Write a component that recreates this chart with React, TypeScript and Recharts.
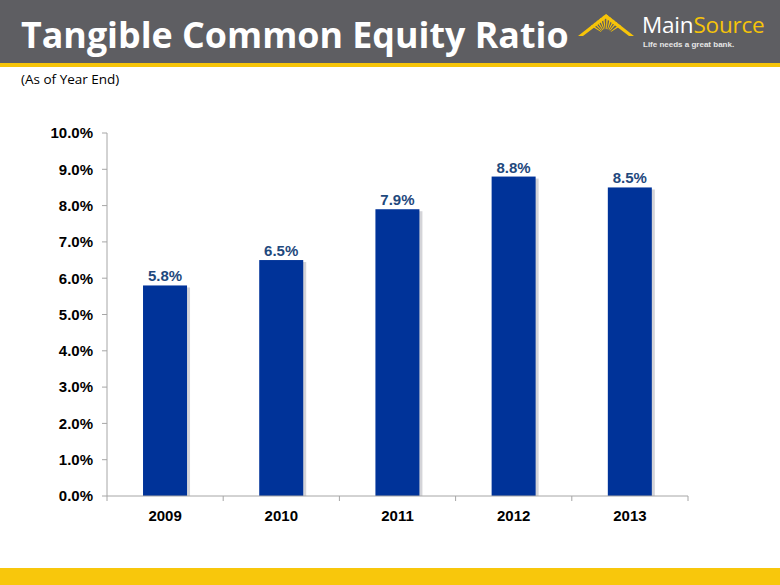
import { BarChart, Bar, XAxis, YAxis, LabelList } from "recharts";

// Tangible common equity ratio, % as of year end
const years = ["2009", "2010", "2011", "2012", "2013"];
const ratios = [5.8, 6.5, 7.9, 8.8, 8.5];
const yTicks = [0, 1, 2, 3, 4, 5, 6, 7, 8, 9, 10];

const data = years.map((year, i) => ({ year, ratio: ratios[i] }));

const BAR_BLUE = "#003399";
const LABEL_BLUE = "#1f497d";
const GOLD = "#f6c409";
const AXIS_GREY = "#a6a6a6";
const FONT = "'Liberation Sans', Arial, sans-serif";

const pct = (v: number) => `${v.toFixed(1)}%`;

// bar with the soft grey drop shadow on its right side
const ShadowBar = (props: any) => {
  const { x, y, width, height, fill } = props;
  if (!height) return null;
  return (
    <g>
      <rect x={x + 3} y={y + 2} width={width} height={height - 2} fill="#d4d4d8" />
      <rect x={x} y={y} width={width} height={height} fill={fill} />
    </g>
  );
};

// category label + tick marks at the category boundaries (like Excel)
const YearTick = (props: any) => {
  const { x, y, payload, index, visibleTicksCount, width } = props;
  const half = payload.offset ?? width / visibleTicksCount / 2;
  const last = index === visibleTicksCount - 1;
  return (
    <g>
      <line x1={x - half} x2={x - half} y1={y} y2={y + 5} stroke={AXIS_GREY} />
      {last && <line x1={x + half} x2={x + half} y1={y} y2={y + 5} stroke={AXIS_GREY} />}
      <text
        x={x}
        y={y + 14}
        dy="0.71em"
        textAnchor="middle"
        fill="#000"
        fontFamily={FONT}
        fontWeight="bold"
        fontSize={15}
      >
        {payload.value}
      </text>
    </g>
  );
};

const rayAngles = [35, 50, 62, 74, 86, 98, 110, 122, 134, 146];

function Logo() {
  const cx = 606;
  const cy = 35;
  return (
    <svg width={780} height={64} style={{ position: "absolute", left: 0, top: 0 }}>
      <defs>
        <clipPath id="roof">
          <polygon points="578,36 606,14 634,36" />
        </clipPath>
      </defs>
      <polygon points="578,36 606,14 634,36 629,36 606,18.5 583,36" fill={GOLD} />
      <g clipPath="url(#roof)">
        {rayAngles.map((a) => {
          const r = (a * Math.PI) / 180;
          const w = 0.05;
          const L = 24;
          const p1 = `${cx + L * Math.cos(r - w)},${cy - L * Math.sin(r - w)}`;
          const p2 = `${cx + L * Math.cos(r + w)},${cy - L * Math.sin(r + w)}`;
          return <polygon key={a} points={`${cx},${cy} ${p1} ${p2}`} fill={GOLD} />;
        })}
        <circle cx={cx} cy={cy} r={6} fill="#5e5e62" />
      </g>
      <text x={642} y={33} fontFamily="'Open Sans', sans-serif" fontSize={22.5} letterSpacing={-0.2}>
        <tspan fill="#ffffff">Main</tspan>
        <tspan fill={GOLD}>Source</tspan>
      </text>
      <text x={643} y={47} fill="#e6e6e6" fontFamily={FONT} fontWeight="bold" fontSize={8}>
        Life needs a great bank.
      </text>
    </svg>
  );
}

export default function App() {
  return (
    <div
      style={{
        position: "absolute",
        left: 0,
        top: 0,
        width: 780,
        height: 585,
        background: "#fff",
        overflow: "hidden",
      }}
    >
      <div style={{ position: "absolute", left: 0, top: 0 }}>
        <BarChart
          width={780}
          height={585}
          data={data}
          margin={{ top: 133, right: 92, bottom: 59, left: 47 }}
          barCategoryGap="31%"
        >
          <XAxis
            dataKey="year"
            height={30}
            stroke={AXIS_GREY}
            tickLine={false}
            tickSize={0}
            tickMargin={0}
            tick={<YearTick />}
          />
          <YAxis
            width={60}
            domain={[0, 10]}
            ticks={yTicks}
            interval={0}
            stroke={AXIS_GREY}
            tickSize={5}
            tickMargin={9}
            tickFormatter={pct}
            tick={{ fill: "#000", fontFamily: FONT, fontWeight: "bold", fontSize: 15 }}
          />
          <Bar dataKey="ratio" fill={BAR_BLUE} shape={<ShadowBar />} isAnimationActive={false}>
            <LabelList
              dataKey="ratio"
              position="top"
              offset={4}
              formatter={(v: any) => pct(Number(v))}
              fill={LABEL_BLUE}
              fontFamily={FONT}
              fontWeight="bold"
              fontSize={15}
            />
          </Bar>
        </BarChart>
      </div>

      {/* slide header */}
      <div style={{ position: "absolute", left: 0, top: 0, width: 780, height: 63, background: "#5e5e62" }} />
      <div style={{ position: "absolute", left: 0, top: 63, width: 780, height: 4, background: GOLD }} />
      <div
        style={{
          position: "absolute",
          left: 21,
          top: 10,
          color: "#fff",
          fontFamily: "'Open Sans', sans-serif",
          fontWeight: 700,
          fontSize: 35.8,
          lineHeight: "48px",
          whiteSpace: "nowrap",
        }}
      >
        Tangible Common Equity Ratio
      </div>
      <Logo />
      <div
        style={{
          position: "absolute",
          left: 21,
          top: 70,
          color: "#000",
          fontFamily: "'Open Sans', sans-serif",
          fontSize: 13.5,
          lineHeight: "19px",
        }}
      >
        (As of Year End)
      </div>

      {/* footer band */}
      <div style={{ position: "absolute", left: 0, top: 568, width: 780, height: 17, background: "#f8c70c" }} />
    </div>
  );
}
